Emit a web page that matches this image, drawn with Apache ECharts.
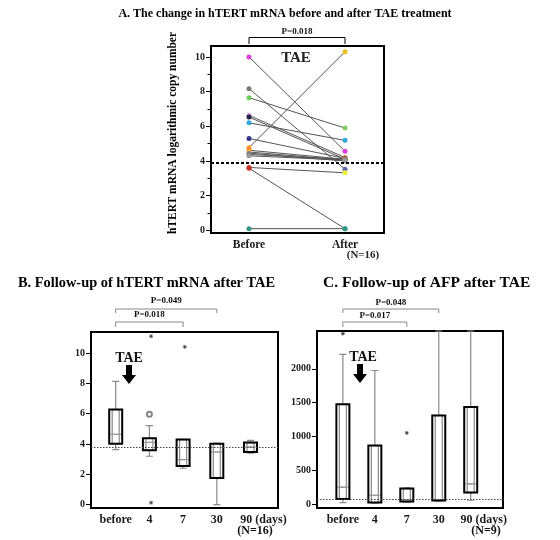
<!DOCTYPE html>
<html><head><meta charset="utf-8">
<script src="https://cdn.jsdelivr.net/npm/echarts@6/dist/echarts.min.js"></script>
<style>html,body{margin:0;padding:0;background:#fff}#c{width:560px;height:540px}</style>
</head><body><div id="c"></div>
<script>
// ---------- Panel A data ----------
const aCategories = ['Before', 'After'];
const aBefore = [10.0, 8.17, 7.65, 6.63, 6.53, 6.2, 5.3, 4.77, 4.62, 4.52, 4.45, 4.38, 4.3, 3.63, 3.58, 0.1];
const aAfter  = [4.56, 3.53, 5.9, 4.2, 4.1, 5.19, 4.15, 10.3, 4.1, 4.05, 4.0, 4.1, 4.05, 3.32, 0.1, 0.1];
const aBeforeColors = ['#e040e0','#777777','#66cc55','#e890e8','#222244','#33a8dd','#333388','#ff9922','#ff7733','#ffcc33','#888888','#777777','#999999','#cc3322','#cc3322','#339988'];
const aAfterColors  = ['#e040e0','#6666aa','#88cc66','#ff8833','#ff8833','#33a8dd','#555555','#f0c020','#ff7733','#888888','#888888','#777777','#999999','#f0f040','#339988','#339988'];
const aThreshold = 3.9;
const aTicks = [0, 2, 4, 6, 8, 10];
const aMinorTicks = [1, 3, 5, 7, 9];
const aPValue = 'P=0.018';

// ---------- Panel B data ----------
const bCategories = ['before', '4', '7', '30', '90 (days)'];
const bBoxes = [
  [3.63, 4.02, 4.64, 6.27, 8.13],
  [3.19, 3.58, 4.10, 4.37, 5.21],
  [2.40, 2.55, 2.97, 4.29, 4.31],
  [0.00, 1.76, 3.47, 4.02, 4.05],
  [3.40, 3.47, 3.80, 4.09, 4.24]
];
const bStars = [[1.05, 11.1], [1.05, 0.13], [2.05, 10.4]];
const bCircles = [[1, 5.96]];
const bThreshold = 3.8;
const bTicks = [0, 2, 4, 6, 8, 10];
const bPValues = [{from: 0, to: 3, text: 'P=0.049'}, {from: 0, to: 2, text: 'P=0.018'}];

// ---------- Panel C data ----------
const cCategories = ['before', '4', '7', '30', '90 (days)'];
const cBoxes = [
  [20, 74, 248, 1474, 2213],
  [10, 20, 129, 864, 1975],
  [25, 35, 65, 228, 238],
  [40, 50, 55, 1310, 2560],
  [55, 169, 298, 1434, 2560]
];
const cStars = [[0, 2521], [2, 1052]];
const cThreshold = 65;
const cTicks = [0, 500, 1000, 1500, 2000];
const cPValues = [{from: 0, to: 3, text: 'P=0.048'}, {from: 0, to: 2, text: 'P=0.017'}];

const SERIF = 'Liberation Serif';
const chart = echarts.init(document.getElementById('c'), null, {renderer: 'canvas'});

const gridBase = {show: true, borderColor: '#000', borderWidth: 2, backgroundColor: 'transparent', containLabel: false};
const lblStyle = (size) => ({fontFamily: SERIF, fontWeight: 'bold', fontSize: size, color: '#1a1a1a'});

function xAxisDef(grid, min, max, cats, size) {
  return {
    type: 'value', gridIndex: grid, min: min, max: max, position: 'bottom',
    axisLine: {show: false, onZero: false}, splitLine: {show: false},
    axisTick: {show: false},
    axisLabel: Object.assign({customValues: cats.map((c, i) => i), margin: 6,
      formatter: (v) => {
        const t = cats[Math.round(v)];
        return t.indexOf('(') > 0 ? '{d|' + t + '}' : t;
      },
      rich: {d: Object.assign({padding: [0, 0, 0, 26]}, lblStyle(size))}
    }, lblStyle(size))
  };
}
function yAxisDef(grid, min, max, ticks, size) {
  return {
    type: 'value', gridIndex: grid, min: min, max: max, position: 'left',
    axisLine: {show: false, onZero: false}, splitLine: {show: false},
    axisTick: {show: true, customValues: ticks, length: 5, lineStyle: {color: '#000', width: 1}},
    axisLabel: Object.assign({customValues: ticks, margin: 6, formatter: (v) => String(v)}, lblStyle(size))
  };
}

const series = [];
// Panel A: one line per patient
aBefore.forEach((b, i) => {
  series.push({
    type: 'line', xAxisIndex: 0, yAxisIndex: 0, symbol: 'circle', symbolSize: 5,
    lineStyle: {color: '#555', width: 1}, z: 3,
    data: [
      {value: [0, b], itemStyle: {color: aBeforeColors[i]}},
      {value: [1, aAfter[i]], itemStyle: {color: aAfterColors[i]}}
    ]
  });
});
series.push({
  type: 'line', xAxisIndex: 0, yAxisIndex: 0, data: [], z: 4,
  markLine: {silent: true, symbol: 'none', label: {show: false},
    lineStyle: {color: '#000', type: [3, 2], width: 2}, data: [{yAxis: aThreshold}]}
});

function boxSeries(xi, yi, boxes, stars, circles, thr) {
  const out = [];
  out.push({
    type: 'line', xAxisIndex: xi, yAxisIndex: yi, data: [], z: 1,
    markLine: {silent: true, symbol: 'none', label: {show: false},
      lineStyle: {color: '#444', type: [1.5, 1.5], width: 1}, data: [{yAxis: thr}]}
  });
  out.push({
    type: 'boxplot', xAxisIndex: xi, yAxisIndex: yi, boxWidth: [7, 7], z: 2,
    itemStyle: {color: '#fff', borderColor: '#8a8a8a', borderWidth: 1.2},
    emphasis: {disabled: true},
    data: boxes.map((b, i) => [i].concat(b))
  });
  out.push({
    type: 'custom', xAxisIndex: xi, yAxisIndex: yi, z: 3, silent: true,
    renderItem: (params, api) => {
      const x = api.value(0);
      const pTop = api.coord([x, api.value(2)]);
      const pBot = api.coord([x, api.value(1)]);
      return {type: 'rect',
        shape: {x: pTop[0] - 6.5, y: pTop[1], width: 13, height: pBot[1] - pTop[1]},
        style: {fill: 'none', stroke: '#000', lineWidth: 2}};
    },
    data: boxes.map((b, i) => [i, b[1], b[3]])
  });
  out.push({
    type: 'custom', xAxisIndex: xi, yAxisIndex: yi, z: 2.5, silent: true,
    renderItem: (params, api) => {
      const p = api.coord([api.value(0), api.value(1)]);
      return {type: 'line', shape: {x1: p[0] - 6, y1: p[1], x2: p[0] + 6, y2: p[1]},
        style: {stroke: '#999', lineWidth: 1}};
    },
    data: boxes.map((b, i) => [i, b[2]])
  });
  out.push({
    type: 'scatter', xAxisIndex: xi, yAxisIndex: yi, z: 4,
    symbol: 'path://M5 0L5 10M0 5L10 5M1.5 1.5L8.5 8.5M8.5 1.5L1.5 8.5',
    symbolSize: 4, itemStyle: {color: '#333', borderColor: '#333', borderWidth: 1},
    data: stars
  });
  if (circles.length) out.push({
    type: 'scatter', xAxisIndex: xi, yAxisIndex: yi, z: 4,
    symbol: 'emptyCircle', symbolSize: 5, itemStyle: {color: '#666', borderWidth: 1},
    data: circles
  });
  return out;
}
series.push(...boxSeries(1, 2, bBoxes, bStars, bCircles, bThreshold));
series.push(...boxSeries(2, 3, cBoxes, cStars, [], cThreshold));

const option = {
  animation: false,
  backgroundColor: '#fff',
  grid: [
    Object.assign({left: 211, top: 46, right: 176, bottom: 307}, gridBase),
    Object.assign({left: 91, top: 332, right: 282, bottom: 32}, gridBase),
    Object.assign({left: 317, top: 331, right: 57, bottom: 32}, gridBase)
  ],
  xAxis: [
    xAxisDef(0, -0.396, 1.406, aCategories, 11.5),
    xAxisDef(1, -0.733, 4.816, bCategories, 12),
    xAxisDef(2, -0.81, 5.01, cCategories, 12)
  ],
  yAxis: [
    yAxisDef(0, -0.15, 10.63, aTicks, 10),
    {type: 'value', gridIndex: 0, min: -0.15, max: 10.63, position: 'left', offset: 0,
     axisLine: {show: false, onZero: false}, splitLine: {show: false},
     axisTick: {show: true, customValues: aMinorTicks, length: 3.5, lineStyle: {color: '#000'}},
     axisLabel: {show: false}},
    yAxisDef(1, -0.22, 11.38, bTicks, 10),
    yAxisDef(2, -60, 2560, cTicks, 10)
  ],
  series: series
};
chart.setOption(option);

// ---------- annotations (pixel layout) ----------
const g = [];
function txt(x, y, text, size, align, color) {
  g.push({type: 'text', x: x, y: y, silent: true,
    style: {text: text, font: 'bold ' + size + 'px "' + SERIF + '"', fill: color || '#111',
      textAlign: align || 'center', textVerticalAlign: 'middle'}});
}
function bracket(gridIdx, from, to, yTop, yEnd, text, yText, color) {
  const x1 = chart.convertToPixel({gridIndex: gridIdx}, [from, 0])[0];
  const x2 = chart.convertToPixel({gridIndex: gridIdx}, [to, 0])[0];
  g.push({type: 'polyline', silent: true,
    shape: {points: [[x1, yEnd], [x1, yTop], [x2, yTop], [x2, yEnd]]},
    style: {stroke: color, lineWidth: 1, fill: null}});
  txt((x1 + x2) / 2, yText, text, 9, 'center');
}
function arrow(cx, yTop) {
  g.push({type: 'polygon', silent: true,
    shape: {points: [[cx - 3, yTop], [cx + 3, yTop], [cx + 3, yTop + 10], [cx + 7, yTop + 10],
                     [cx, yTop + 19], [cx - 7, yTop + 10], [cx - 3, yTop + 10]]},
    style: {fill: '#000'}});
}

txt(285, 14, 'A. The change in hTERT mRNA before and after TAE treatment', 12, 'center', '#000');
txt(18, 283, 'B. Follow-up of hTERT mRNA after TAE', 14.4, 'left', '#000');
txt(323, 283, 'C. Follow-up of AFP after TAE', 15.5, 'left', '#000');

g.push({type: 'text', x: 173, y: 133, rotation: Math.PI / 2, silent: true,
  style: {text: 'hTERT mRNA logarithmic copy number', font: 'bold 11.5px "' + SERIF + '"',
    fill: '#000', textAlign: 'center', textVerticalAlign: 'middle'}});

bracket(0, 0, 1, 37.5, 44, aPValue, 31.5, '#000');
txt(296, 58, 'TAE', 15, 'center', '#222');
txt(363, 255, '(N=16)', 11, 'center', '#222');

bPValues.forEach((p, k) => bracket(1, p.from, p.to, k === 0 ? 309 : 322, k === 0 ? 313 : 327, p.text, k === 0 ? 301 : 315, '#888'));
cPValues.forEach((p, k) => bracket(2, p.from, p.to, k === 0 ? 309 : 322, k === 0 ? 313 : 327, p.text, k === 0 ? 302.5 : 316, '#888'));

txt(129, 358, 'TAE', 14, 'center', '#111');
arrow(129, 365);
txt(363, 357, 'TAE', 14, 'center', '#111');
arrow(360, 364);

txt(255, 531, '(N=16)', 12, 'center', '#111');
txt(486, 531, '(N=9)', 12, 'center', '#111');

chart.setOption({graphic: g});
</script>
</body></html>
